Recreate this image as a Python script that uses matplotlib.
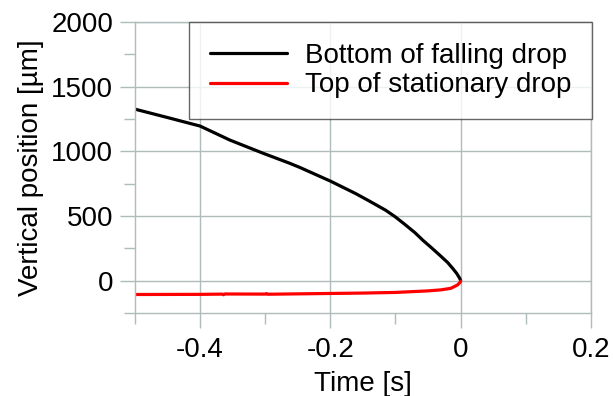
"""Falling drop approaching a stationary drop: vertical positions vs time."""

import matplotlib

matplotlib.use("Agg")
import matplotlib.pyplot as plt
from matplotlib.ticker import MultipleLocator

plt.rcParams["font.family"] = ["Liberation Sans", "DejaVu Sans"]

# values
falling_time = [-0.5, -0.45, -0.4, -0.354, -0.303, -0.263, -0.247, -0.2, -0.161,
                -0.14, -0.115, -0.1, -0.084, -0.07, -0.058, -0.045, -0.032,
                -0.02, -0.012, -0.006, -0.0015, 0.0]
falling_pos = [1327, 1262, 1196, 1087, 985, 909, 876, 770, 673,
               615, 544, 492, 428, 370, 312, 255, 196,
               140, 93, 55, 18, 0]

stationary_time = [-0.5, -0.4, -0.366, -0.364, -0.362, -0.3, -0.298, -0.296, -0.2,
                   -0.15, -0.1, -0.05, -0.03, -0.015, -0.005, -0.001, 0.0]
stationary_pos = [-108, -107, -105, -110, -104, -105, -101, -106, -100,
                  -97, -92, -80, -72, -60, -35, -15, -5]

labels = ["Bottom of falling drop", "Top of stationary drop"]

GRID = "#aebcbc"
FS = 20

fig = plt.figure(figsize=(6.13, 3.96), dpi=100)
ax = fig.add_axes([0.220, 0.210, 0.744, 0.734])

ax.plot(falling_time, falling_pos, color="black", lw=2.3, label=labels[0],
        solid_capstyle="round")
ax.plot(stationary_time, stationary_pos, color="#ff0000", lw=2.3, label=labels[1],
        solid_capstyle="round")

ax.set_xlim(-0.5, 0.2)
ax.set_ylim(-250, 2000)
ax.xaxis.set_minor_locator(MultipleLocator(0.1))
ax.yaxis.set_minor_locator(MultipleLocator(250))
ax.set_xticks([-0.4, -0.2, 0.0, 0.2])
ax.set_xticklabels(["-0.4", "-0.2", "0", "0.2"])
ax.set_yticks([0, 500, 1000, 1500, 2000])
ax.set_yticklabels(["0", "500", "1000", "1500", "2000"])

ax.grid(which="major", color=GRID, lw=1.0)
ax.tick_params(which="major", length=10.5, width=1.0, color=GRID,
               labelsize=FS, pad=5)
ax.tick_params(which="minor", length=8, width=1.0, color=GRID)
ax.tick_params(axis="x", which="major", pad=7)
for side in ("left", "bottom", "right", "top"):
    ax.spines[side].set_color(GRID)
    ax.spines[side].set_linewidth(1.0)

ax.set_xlabel("Time [s]", fontsize=FS, labelpad=6)
ax.set_ylabel("Vertical position [µm]", fontsize=FS, labelpad=5)

leg = ax.legend(loc="upper right", bbox_to_anchor=(1.002, 1.0), fontsize=FS,
                frameon=True, fancybox=False, handlelength=2.75,
                handletextpad=0.65, borderpad=0.75, labelspacing=0.12,
                borderaxespad=0.0)
leg.get_frame().set_edgecolor("#404040")
leg.get_frame().set_linewidth(1.0)

fig.savefig("out.png", dpi=100)
